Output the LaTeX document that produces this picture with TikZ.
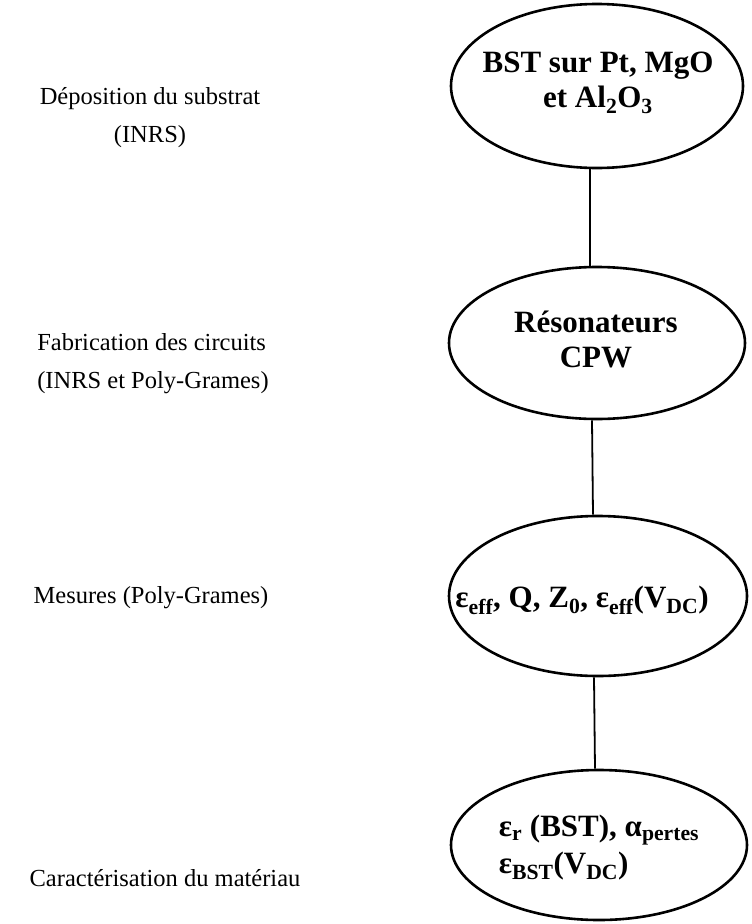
\documentclass[tikz,border=0pt]{standalone}
\usepackage{fontspec}
\setmainfont{Liberation Serif}
\usetikzlibrary{shapes.geometric}
\tikzset{
  stage/.style={ellipse, draw, line width=2.6pt, inner sep=0pt},
  stagetext/.style={font=\fontsize{31}{35}\selectfont\bfseries, align=center, inner sep=0pt},
  side/.style={font=\fontsize{24.5}{38}\selectfont, align=center},
  link/.style={line width=1.8pt}
}
\begin{document}
\begin{tikzpicture}[x=1pt,y=1pt]
\useasboundingbox (0,0) rectangle (752,-924);
% ellipses
\node[stage, minimum width=292pt, minimum height=164pt] (e1) at (597,-86) {};
\node[stage, minimum width=296pt, minimum height=152pt] (e2) at (597,-343) {};
\node[stage, minimum width=298pt, minimum height=160pt] (e3) at (598,-596) {};
\node[stage, minimum width=296pt, minimum height=150pt] (e4) at (599,-845) {};
% texts inside
\node[stagetext] (t1) at (598,-83) {BST sur Pt, MgO\\et Al\textsubscript{2}O\textsubscript{3}};
\node[stagetext] (t2) at (596,-339) {Résonateurs\\CPW};
\node[stagetext] (t3) at (582,-600) {ε\textsubscript{eff}, Q, Z\textsubscript{0}, ε\textsubscript{eff}(V\textsubscript{DC})};
\node[stagetext, align=left, font=\fontsize{31}{37}\selectfont\bfseries] (t4) at (599,-848) {ε\textsubscript{r} (BST), α\textsubscript{pertes}\\ε\textsubscript{BST}(V\textsubscript{DC})};
% connectors
\draw[link] ([xshift=-7pt]e1.south) -- ([xshift=-7pt]e2.north);
\draw[link] ([xshift=-5pt]e2.south) -- ([xshift=-5pt]e3.north);
\draw[link] ([xshift=-4pt]e3.south) -- ([xshift=-4pt]e4.north);
% side labels
\node[side] (l1) at (150,-118) {Déposition du substrat\\(INRS)};
\node[side, align=left] (l2) at (153,-364) {Fabrication des circuits\\(INRS et Poly-Grames)};
\node[side] (l3) at (151,-598) {Mesures (Poly-Grames)};
\node[side] (l4) at (165,-878) {Caractérisation du matériau};
\end{tikzpicture}
\end{document}
